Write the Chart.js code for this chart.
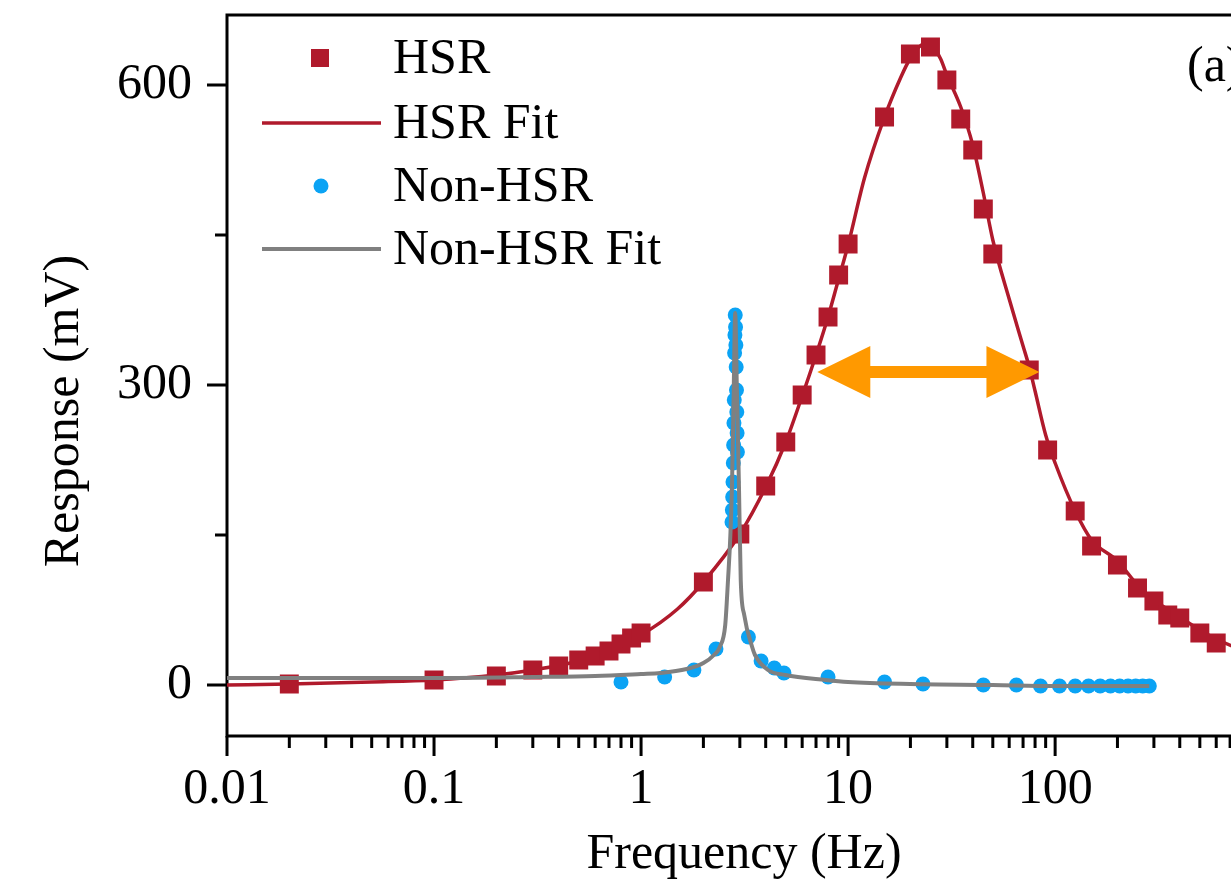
<!DOCTYPE html>
<html>
<head>
<meta charset="utf-8">
<script src="https://cdn.jsdelivr.net/npm/chart.js@4.4.0/dist/chart.umd.min.js"></script>
<style>
  html, body { margin: 0; padding: 0; background: #fff; }
  #wrap { width: 1231px; height: 879px; overflow: hidden; position: relative; }
  canvas { display: block; }
</style>
</head>
<body>
<div id="wrap"><canvas id="myChart" width="1262" height="879"></canvas></div>
<script>
// HSR measured points
const hsrFreq = [0.02, 0.1, 0.2, 0.3, 0.4, 0.5, 0.6, 0.7, 0.8, 0.9, 1, 2, 3, 4, 5, 6, 7, 8, 9, 10, 15, 20, 25, 30, 35, 40, 45, 50, 75, 92, 125, 150, 200, 250, 300, 350, 400, 500, 600];
const hsrResp = [1, 5, 9, 15, 19, 25, 29, 34, 41, 47, 52, 103, 151, 199, 243, 290, 330, 368, 410, 441, 568, 631, 638, 605, 566, 535, 476, 431, 315, 235, 174, 139, 120, 97, 84, 70, 67, 52, 42];

// HSR fit curve
const hsrFitFreq = [0.01, 0.02, 0.05, 0.1, 0.2, 0.3, 0.5, 0.7, 1, 1.5, 2, 3, 4, 5, 6, 7, 8, 9, 10, 12, 15, 18, 20, 22, 24, 26, 28, 30, 35, 40, 45, 50, 60, 70, 75, 80, 90, 100, 125, 150, 200, 250, 300, 400, 500, 600, 860];
const hsrFitResp = [0, 1, 3, 5, 10, 15, 24, 35, 50, 76, 103, 151, 198, 243, 289, 330, 368, 406, 440, 507, 568, 608, 627, 638, 642, 637, 626, 610, 578, 540, 492, 445, 386, 339, 318, 294, 250, 222, 174, 145, 124, 100, 85, 68, 55, 46, 32];

// Non-HSR measured points
const nonFreq = [0.8, 1.3, 1.8, 2.3, 2.75, 2.76, 2.77, 2.78, 2.79, 2.8, 2.81, 2.82, 2.83, 2.84, 2.85, 2.86, 2.87, 2.88, 2.89, 2.9, 2.91, 2.92, 3.3, 3.8, 4.4, 4.9, 8, 15, 23, 45, 65, 85, 105, 125, 145, 165, 185, 205, 225, 245, 265, 285];
const nonResp = [3, 8, 15, 36, 163, 175, 188, 203, 222, 240, 262, 285, 332, 350, 370, 358, 340, 318, 295, 273, 252, 233, 48, 24, 17, 12, 8, 3, 1, 0, 0, -1, -1, -1, -1, -1, -1, -1, -1, -1, -1, -1];

// Non-HSR fit curve
const nonFitFreq = [0.01, 0.1, 0.3, 0.6, 1, 1.24, 1.66, 2, 2.25, 2.4, 2.55, 2.63, 2.7, 2.75, 2.8, 2.85, 2.9, 2.97, 3.03, 3.15, 3.44, 3.55, 4.1, 4.97, 7.8, 10, 20, 50, 100, 285];
const nonFitResp = [7, 7, 8, 9, 11, 12, 16, 22, 30, 38, 60, 105, 150, 200, 290, 372, 300, 200, 105, 70, 38, 30, 15, 10, 5, 3, 1, 0, -1, -1];

// axis ticks
const xTickLabels = [0.01, 0.1, 1, 10, 100];
const yTickLabels = [0, 300, 600];
const yMinorTicks = [150, 450];

// half-width arrow (Hz) and its level (mV)
const arrowFreq = [7.1, 84];
const arrowLevel = 313;

const RED = '#B01A2C';
const BLUE = '#0BA3F4';
const GRAY = '#808080';
const ORANGE = '#FF9900';
const FONT = '"Liberation Serif", "Times New Roman", serif';

const toXY = (xs, ys) => xs.map((x, i) => ({ x: x, y: ys[i] }));

const extras = {
  id: 'extras',
  beforeDatasetsDraw(chart) {
    const ctx = chart.ctx;
    const a = chart.chartArea;
    const xs = chart.scales.x, ys = chart.scales.y;
    ctx.save();
    ctx.strokeStyle = '#000';
    ctx.lineWidth = 3;
    ctx.lineCap = 'butt';
    // frame
    ctx.beginPath();
    ctx.moveTo(a.right + 5, a.top);
    ctx.lineTo(a.left, a.top);
    ctx.lineTo(a.left, a.bottom);
    ctx.lineTo(a.right + 5, a.bottom);
    ctx.stroke();
    // x ticks
    ctx.beginPath();
    for (let d = -2; d <= 2; d++) {
      for (let k = 1; k <= 9; k++) {
        const v = k * Math.pow(10, d);
        if (v > xs.max) break;
        const px = xs.getPixelForValue(v);
        const len = k === 1 ? 20 : 12;
        ctx.moveTo(px, a.bottom);
        ctx.lineTo(px, a.bottom + len);
      }
    }
    // y ticks
    yTickLabels.forEach(v => {
      const py = ys.getPixelForValue(v);
      ctx.moveTo(a.left, py);
      ctx.lineTo(a.left - 20, py);
    });
    yMinorTicks.forEach(v => {
      const py = ys.getPixelForValue(v);
      ctx.moveTo(a.left, py);
      ctx.lineTo(a.left - 12, py);
    });
    ctx.stroke();

    // axis titles
    ctx.fillStyle = '#000';
    ctx.font = '50px ' + FONT;
    ctx.textAlign = 'center';
    ctx.textBaseline = 'alphabetic';
    ctx.fillText('Frequency (Hz)', 744, 868);
    ctx.save();
    ctx.translate(78, 411);
    ctx.rotate(-Math.PI / 2);
    ctx.fillText('Response (mV)', 0, 0);
    ctx.restore();

    // panel label
    ctx.textAlign = 'left';
    ctx.fillText('(a)', 1187, 81);
    ctx.restore();
  },
  afterDatasetsDraw(chart) {
    const ctx = chart.ctx;
    const xs = chart.scales.x, ys = chart.scales.y;
    const x1 = xs.getPixelForValue(arrowFreq[0]);
    const x2 = xs.getPixelForValue(arrowFreq[1]);
    const y = ys.getPixelForValue(arrowLevel);
    const head = 53, half = 26, shaft = 6;
    ctx.save();
    ctx.fillStyle = ORANGE;
    ctx.beginPath();
    ctx.moveTo(x1, y);
    ctx.lineTo(x1 + head, y - half);
    ctx.lineTo(x1 + head, y - shaft);
    ctx.lineTo(x2 - head, y - shaft);
    ctx.lineTo(x2 - head, y - half);
    ctx.lineTo(x2, y);
    ctx.lineTo(x2 - head, y + half);
    ctx.lineTo(x2 - head, y + shaft);
    ctx.lineTo(x1 + head, y + shaft);
    ctx.lineTo(x1 + head, y + half);
    ctx.closePath();
    ctx.fill();

    // legend
    ctx.font = '50px ' + FONT;
    ctx.textAlign = 'left';
    ctx.textBaseline = 'middle';
    const rows = [58, 123, 186, 249];
    const names = chart.data.datasets.map(d => d.label);
    ctx.fillStyle = RED;
    ctx.fillRect(311, rows[0] - 9, 18, 18);
    ctx.strokeStyle = RED;
    ctx.lineWidth = 3.5;
    ctx.beginPath();
    ctx.moveTo(262, rows[1]);
    ctx.lineTo(381, rows[1]);
    ctx.stroke();
    ctx.fillStyle = BLUE;
    ctx.beginPath();
    ctx.arc(321, rows[2], 7.5, 0, Math.PI * 2);
    ctx.fill();
    ctx.strokeStyle = GRAY;
    ctx.lineWidth = 4;
    ctx.beginPath();
    ctx.moveTo(262, rows[3]);
    ctx.lineTo(381, rows[3]);
    ctx.stroke();
    ctx.fillStyle = '#000';
    names.forEach((n, i) => ctx.fillText(n, 393, rows[i] + 2));
    ctx.restore();
  }
};

const chartConfig = {
  type: 'line',
  data: {
    datasets: [
      {
        label: 'HSR',
        data: toXY(hsrFreq, hsrResp),
        showLine: false,
        pointStyle: 'rect',
        pointRadius: 13.4,
        pointBackgroundColor: RED,
        pointBorderWidth: 0,
        borderColor: RED,
        order: 3
      },
      {
        label: 'HSR Fit',
        data: toXY(hsrFitFreq, hsrFitResp),
        borderColor: RED,
        borderWidth: 3.5,
        pointRadius: 0,
        cubicInterpolationMode: 'monotone',
        order: 4
      },
      {
        label: 'Non-HSR',
        data: toXY(nonFreq, nonResp),
        showLine: false,
        pointStyle: 'circle',
        pointRadius: 7.5,
        pointBackgroundColor: BLUE,
        pointBorderWidth: 0,
        borderColor: BLUE,
        order: 2
      },
      {
        label: 'Non-HSR Fit',
        data: toXY(nonFitFreq, nonFitResp),
        borderColor: GRAY,
        borderWidth: 4,
        pointRadius: 0,
        cubicInterpolationMode: 'monotone',
        order: 1
      }
    ]
  },
  options: {
    responsive: false,
    animation: false,
    devicePixelRatio: 1,
    layout: { padding: { top: 15, left: 0, right: 0, bottom: 0 } },
    plugins: { legend: { display: false }, tooltip: { enabled: false } },
    scales: {
      x: {
        type: 'logarithmic',
        min: 0.01,
        max: 860,
        afterBuildTicks: s => { s.ticks = xTickLabels.map(v => ({ value: v })); },
        afterFit: s => { s.height = 143; s.paddingLeft = 0; s.paddingRight = 0; },
        border: { display: false },
        grid: { display: false, drawTicks: true, tickLength: 20 },
        ticks: {
          autoSkip: false,
          maxRotation: 0,
          padding: 4,
          color: '#000',
          font: { family: FONT, size: 50 },
          callback: v => String(v)
        }
      },
      y: {
        type: 'linear',
        min: -51,
        max: 670,
        afterBuildTicks: s => { s.ticks = yTickLabels.map(v => ({ value: v })); },
        afterFit: s => { s.width = 227; s.paddingTop = 0; s.paddingBottom = 0; },
        border: { display: false },
        grid: { display: false, drawTicks: true, tickLength: 20 },
        ticks: {
          padding: 15,
          color: '#000',
          font: { family: FONT, size: 50 },
          callback: v => String(v)
        }
      }
    }
  },
  plugins: [extras]
};

const myChart = new Chart(document.getElementById('myChart').getContext('2d'), chartConfig);
</script>
</body>
</html>
